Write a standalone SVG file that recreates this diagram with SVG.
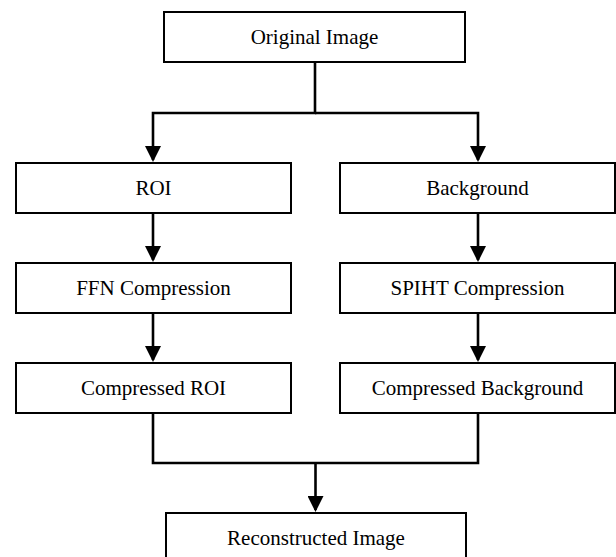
<svg xmlns="http://www.w3.org/2000/svg" width="616" height="557" viewBox="0 0 616 557">
<style>
.box{fill:#fff;stroke:#000;stroke-width:2}
.lbl{font-family:"Liberation Serif","Times New Roman",serif;font-size:21px;fill:#000;text-anchor:middle}
.conn{fill:none;stroke:#000;stroke-width:2.6}
</style>
<defs>
<marker id="ah" viewBox="0 0 16 16" refX="14" refY="8" markerWidth="16" markerHeight="16" markerUnits="userSpaceOnUse" orient="auto">
<path d="M0,0 L16,8 L0,16 z" fill="#000"/>
</marker>
</defs>
<rect width="616" height="557" fill="#fff"/>
<g id="connectors">
<path class="conn" d="M315,62 V113 H153 V160" marker-end="url(#ah)"/>
<path class="conn" d="M315,113 H478 V160" marker-end="url(#ah)"/>
<path class="conn" d="M153,213 V260" marker-end="url(#ah)"/>
<path class="conn" d="M478,213 V260" marker-end="url(#ah)"/>
<path class="conn" d="M153,313 V360" marker-end="url(#ah)"/>
<path class="conn" d="M478,313 V360" marker-end="url(#ah)"/>
<path class="conn" d="M153,413 V463 H478 V413"/>
<path class="conn" d="M315.5,463 V510" marker-end="url(#ah)"/>
</g>
<g id="original"><rect class="box" x="164" y="12" width="301" height="50"/><text class="lbl" x="314.5" y="44">Original Image</text></g>
<g id="roi"><rect class="box" x="16" y="163" width="275" height="50"/><text class="lbl" x="153.5" y="195">ROI</text></g>
<g id="background"><rect class="box" x="340" y="163" width="275" height="50"/><text class="lbl" x="477.5" y="195">Background</text></g>
<g id="ffn"><rect class="box" x="16" y="263" width="275" height="50"/><text class="lbl" x="153.5" y="295">FFN Compression</text></g>
<g id="spiht"><rect class="box" x="340" y="263" width="275" height="50"/><text class="lbl" x="477.5" y="295">SPIHT Compression</text></g>
<g id="croi"><rect class="box" x="16" y="363" width="275" height="50"/><text class="lbl" x="153.5" y="395">Compressed ROI</text></g>
<g id="cbg"><rect class="box" x="340" y="363" width="275" height="50"/><text class="lbl" x="477.5" y="395">Compressed Background</text></g>
<g id="recon"><rect class="box" x="166" y="513" width="300" height="60"/><text class="lbl" x="316" y="545">Reconstructed Image</text></g>
</svg>
